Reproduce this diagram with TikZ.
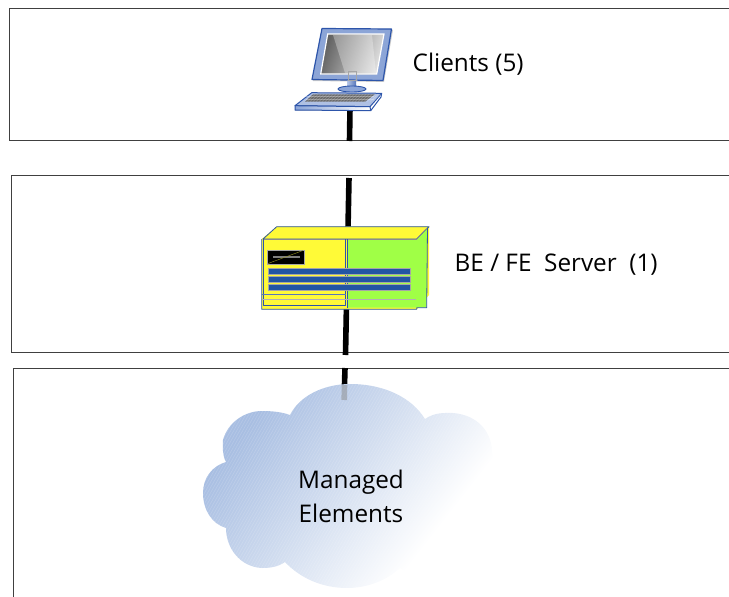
\documentclass[tikz,border=0pt]{standalone}
\usepackage{fontspec}
\setmainfont{Open Sans}
\usetikzlibrary{calc}
\definecolor{edgeblue}{RGB}{45,85,170}
\definecolor{monblue}{RGB}{140,165,215}
\definecolor{barblue}{RGB}{34,85,164}
\definecolor{srvyellow}{RGB}{255,250,55}
\definecolor{srvgreen}{RGB}{160,255,70}
\definecolor{cloudblue}{RGB}{168,190,226}
\definecolor{cloudmid}{RGB}{208,220,239}
\pgfdeclarehorizontalshading{cloudfade}{100bp}{
  color(0bp)=(cloudblue); color(27bp)=(cloudblue); color(47bp)=(cloudmid);
  color(69bp)=(white); color(100bp)=(white)}
\tikzset{
  tier/.style={draw=black!75,line width=0.8pt},
  pole/.style={draw=black,line width=5.6pt},
  lbl/.style={font=\fontsize{24.3}{34}\selectfont,inner sep=0pt,text=black},
  srvedge/.style={draw=edgeblue,line width=0.8pt,line join=round},
  bar/.style={fill=barblue,draw=black!35,line width=0.8pt},
}
\begin{document}
\begin{tikzpicture}[x=1pt,y=-1pt]
\useasboundingbox (0,0) rectangle (729,597);
% tiers
\draw[tier] (729,8) -- (9.5,8) -- (9.5,140.5) -- (729,140.5);
\draw[tier] (729,175) -- (11.5,175) -- (11.5,352.5) -- (729,352.5);
\draw[tier] (729,368) -- (13.5,368) -- (13.5,597);
% anchors
\coordinate (clientfoot) at (350,108);
\coordinate (tierone) at (349.5,141);
\coordinate (servertop) at (349,178);
\coordinate (serverfoot) at (345.5,355);
\coordinate (tierthree) at (345,368);
\coordinate (cloudtop) at (344.5,385);
\coordinate (cloudin) at (344.2,400);
\draw[pole] (clientfoot) -- (tierone);
\draw[pole] (servertop) -- (serverfoot);
\draw[pole] (tierthree) -- (cloudtop);
% cloud
\def\cloudpath{(290,415) .. controls (300,395) and (325,384) .. (350,384)
  .. controls (385,384) and (412,398) .. (425,419)
  .. controls (435,412) and (445,413) .. (453,413)
  .. controls (478,415) and (491,432) .. (492,450)
  .. controls (493,458) and (494,465) .. (495,473)
  .. controls (490,510) and (470,560) .. (430,578)
  .. controls (418,577) and (408,573) .. (400,568)
  .. controls (385,582) and (365,588) .. (347,588)
  .. controls (322,588) and (300,578) .. (285,562)
  .. controls (278,567) and (270,568) .. (262,568)
  .. controls (240,567) and (226,548) .. (226,528)
  .. controls (212,524) and (203,510) .. (203,493)
  .. controls (203,478) and (212,466) .. (226,462)
  .. controls (222,455) and (223,447) .. (223,440)
  .. controls (228,422) and (245,411) .. (262,411)
  .. controls (272,411) and (282,412) .. (290,415) -- cycle}
\shade[shading=cloudfade,shading angle=-38] \cloudpath;
\begin{scope}
\clip \cloudpath;
\foreach \k in {-130,-127,...,320} {
  \draw[white,opacity=0.14,line width=0.7pt] (190+\k,600) -- (190+\k+130,370);
}
\end{scope}
\draw[draw=black!45,line width=5.6pt,opacity=.5] (cloudtop) -- (cloudin);
% client workstation
\node[lbl,anchor=west] (clients) at (412.5,64) {Clients (5)};
\fill[black!20] (323,29) -- (393,30) -- (384,82) -- (313,81) -- cycle;
\fill[monblue] (322,28.5) -- (391.5,29) -- (383,80.5) -- (312,79.5) -- cycle;
\draw[edgeblue,line width=1.2pt,line join=round] (322,28.5) -- (391.5,29) -- (383,80.5) -- (312,79.5) -- cycle;
\filldraw[draw=white,line width=1.2pt,left color=black!62,right color=black!12,shading angle=70]
  (327.7,34) -- (384,34) -- (376.7,74) -- (320.7,74) -- cycle;
\fill[white,opacity=.3] (333,35) -- (372,35) -- (376,73) -- (345,73) -- cycle;
\fill[left color=monblue!70,right color=edgeblue!80] (347.7,80.5) rectangle (356,87);
\draw[black!35,line width=.4pt] (347.7,71) rectangle (356,80.5);
\filldraw[fill=monblue,draw=edgeblue,line width=.9pt] (352,89) ellipse (14 and 3);
\filldraw[fill=monblue!70,draw=edgeblue,line width=1pt,line join=round] (311.7,92.7) -- (381.7,93.3) -- (370,106.7) -- (295,105.7) -- cycle;
\fill[black!58] (313,94.3) -- (375,94.3) -- (365,101.7) -- (305,101.7) -- cycle;
\foreach \k in {0,3,...,66} {\draw[white,opacity=.3,line width=.4pt] (307+\k,101.5) -- (315+\k,94.5);}
\foreach \r in {96.5,99} {\draw[white,opacity=.3,line width=.4pt] (306,\r) -- (374,\r);}
\filldraw[left color=monblue,right color=white,draw=edgeblue,line width=1pt,line join=round] (295,105.7) -- (370,106.7) -- (370.7,110.7) -- (295,110) -- cycle;
\draw[edgeblue,line width=1pt,line join=round] (381.7,93.3) -- (381,97) -- (370.7,110.7);
% server
\node[lbl,anchor=west] (server) at (454.5,264.5) {BE / FE\ \ Server\ \ (1)};
\fill[srvyellow] (276.7,226.7) -- (429,226.7) -- (429,295) -- (417,309.3) -- (261.7,309.3) -- (261.7,239) -- cycle;
\filldraw[fill=srvyellow,srvedge] (276.7,226.7) -- (429,226.7) -- (416.7,239) -- (263,239) -- cycle;
\fill[srvgreen] (347.5,240) -- (416.7,240) -- (427,229) -- (426.7,307.7) -- (347.5,307.7) -- cycle;
\draw[srvedge] (261.7,239) -- (261.7,309.3) -- (416.7,309.3) -- (416.7,307.7) -- (426.7,307.7) -- (427.5,228);
\draw[draw=black!45,line width=.8pt] (263,239) -- (416.7,239);
\draw[srvedge] (263.3,239) -- (263.3,305) -- (345.7,305) -- (345.7,239);
\draw[srvedge] (347.3,239) -- (347.3,307.7);
\draw[draw=black!45,line width=.8pt] (416.7,239) -- (426,229);
\filldraw[fill=black,draw=black!35,line width=.8pt] (267.7,250) rectangle (304,264.3);
\draw[black!50,line width=1.6pt] (273.3,256.7) -- (300,256.7);
\draw[srvyellow!60!black,line width=.4pt] (268,263.5) -- (303,250.5);
\draw[bar] (268.3,268.7) rectangle (410,274.6);
\draw[bar] (268.3,276.7) rectangle (410,282.7);
\draw[bar] (268.3,284.7) rectangle (410,290.6);
\draw[edgeblue!80,line width=.6pt] (261.7,294) -- (345.7,294);
\draw[black!30,line width=.8pt] (261.7,299.7) -- (416,299.7);
% cloud label
\node[lbl,align=center] (cloudlabel) at (351,496.5) {Managed\\Elements};
\end{tikzpicture}
\end{document}
